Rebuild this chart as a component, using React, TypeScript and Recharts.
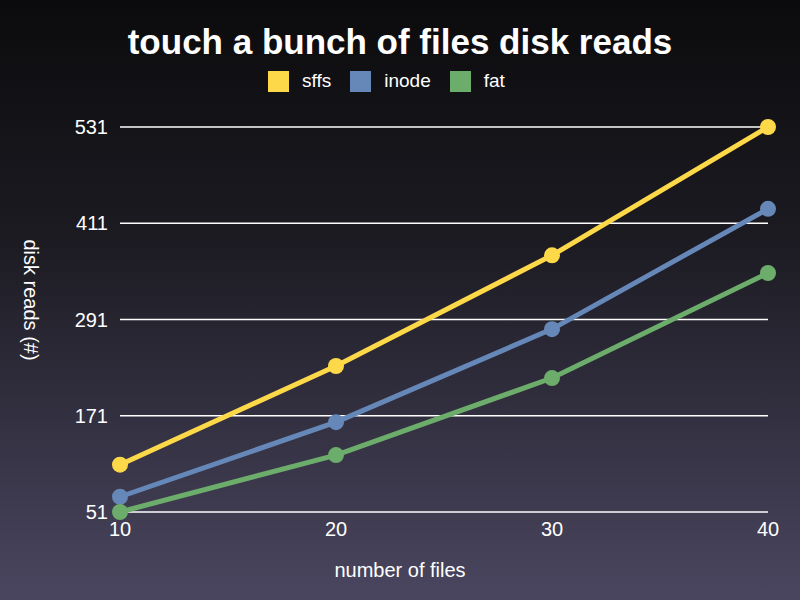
import React from "react";
import { LineChart, Line, XAxis, YAxis, CartesianGrid } from "recharts";

const fileCounts = [10, 20, 30, 40];
const sffs = [110, 233, 371, 531];
const inode = [70, 163, 279, 429];
const fat = [51, 122, 218, 349];
const yTicks = [51, 171, 291, 411, 531];

const seriesInfo = [
  { key: "sffs", color: "#FDD94A" },
  { key: "inode", color: "#6688B8" },
  { key: "fat", color: "#6DAD6B" },
];

const data = fileCounts.map((f, i) => ({
  files: f,
  sffs: sffs[i],
  inode: inode[i],
  fat: fat[i],
}));

const font = "'Liberation Sans', Arial, sans-serif";

export default function App() {
  return (
    <div
      style={{
        position: "fixed",
        top: 0,
        left: 0,
        width: 800,
        height: 600,
        background: "linear-gradient(to bottom, #0b0b0d 0%, #1c1b22 40%, #4a4660 100%)",
        fontFamily: font,
        color: "#fff",
      }}
    >
      <div
        style={{
          position: "absolute",
          top: 20,
          left: 0,
          width: 800,
          textAlign: "center",
          fontSize: 35,
          fontWeight: "bold",
          lineHeight: "44px",
        }}
      >
        touch a bunch of files disk reads
      </div>
      {/* legend sits a little left of centre in the original */}
      <div
        style={{
          position: "absolute",
          top: 70,
          left: 268,
          display: "flex",
          fontSize: 19,
          lineHeight: "22px",
        }}
      >
        {seriesInfo.map((s) => (
          <div key={s.key} style={{ display: "flex", alignItems: "center", marginRight: 19 }}>
            <span style={{ width: 21, height: 21, background: s.color, display: "inline-block", marginRight: 13 }} />
            <span>{s.key}</span>
          </div>
        ))}
      </div>
      <div
        style={{
          position: "absolute",
          left: 30,
          top: 300,
          fontSize: 20,
          transform: "translate(-50%, -50%) rotate(90deg)",
          whiteSpace: "nowrap",
        }}
      >
        disk reads (#)
      </div>
      <div
        style={{
          position: "absolute",
          top: 558,
          left: 0,
          width: 800,
          textAlign: "center",
          fontSize: 20,
          lineHeight: "24px",
        }}
      >
        number of files
      </div>
      <div style={{ position: "absolute", top: 0, left: 0 }}>
        <LineChart
          width={800}
          height={600}
          data={data}
          margin={{ top: 127, right: 32, bottom: 0, left: 0 }}
        >
          <CartesianGrid vertical={false} stroke="#ffffff" strokeWidth={1.5} />
          <XAxis
            dataKey="files"
            type="number"
            domain={[10, 40]}
            ticks={fileCounts}
            axisLine={false}
            tickLine={false}
            height={88}
            tick={{ fill: "#ffffff", fontSize: 20, fontFamily: font }}
            tickMargin={4}
          />
          <YAxis
            type="number"
            domain={[51, 531]}
            ticks={yTicks}
            axisLine={false}
            tickLine={false}
            width={120}
            interval={0}
            tick={{ fill: "#ffffff", fontSize: 20, fontFamily: font }}
            tickMargin={6}
          />
          {seriesInfo.map((s) => (
            <Line
              key={s.key}
              dataKey={s.key}
              type="linear"
              stroke={s.color}
              strokeWidth={5}
              dot={{ r: 8, fill: s.color, stroke: s.color, strokeWidth: 0 }}
              isAnimationActive={false}
            />
          ))}
        </LineChart>
      </div>
    </div>
  );
}
